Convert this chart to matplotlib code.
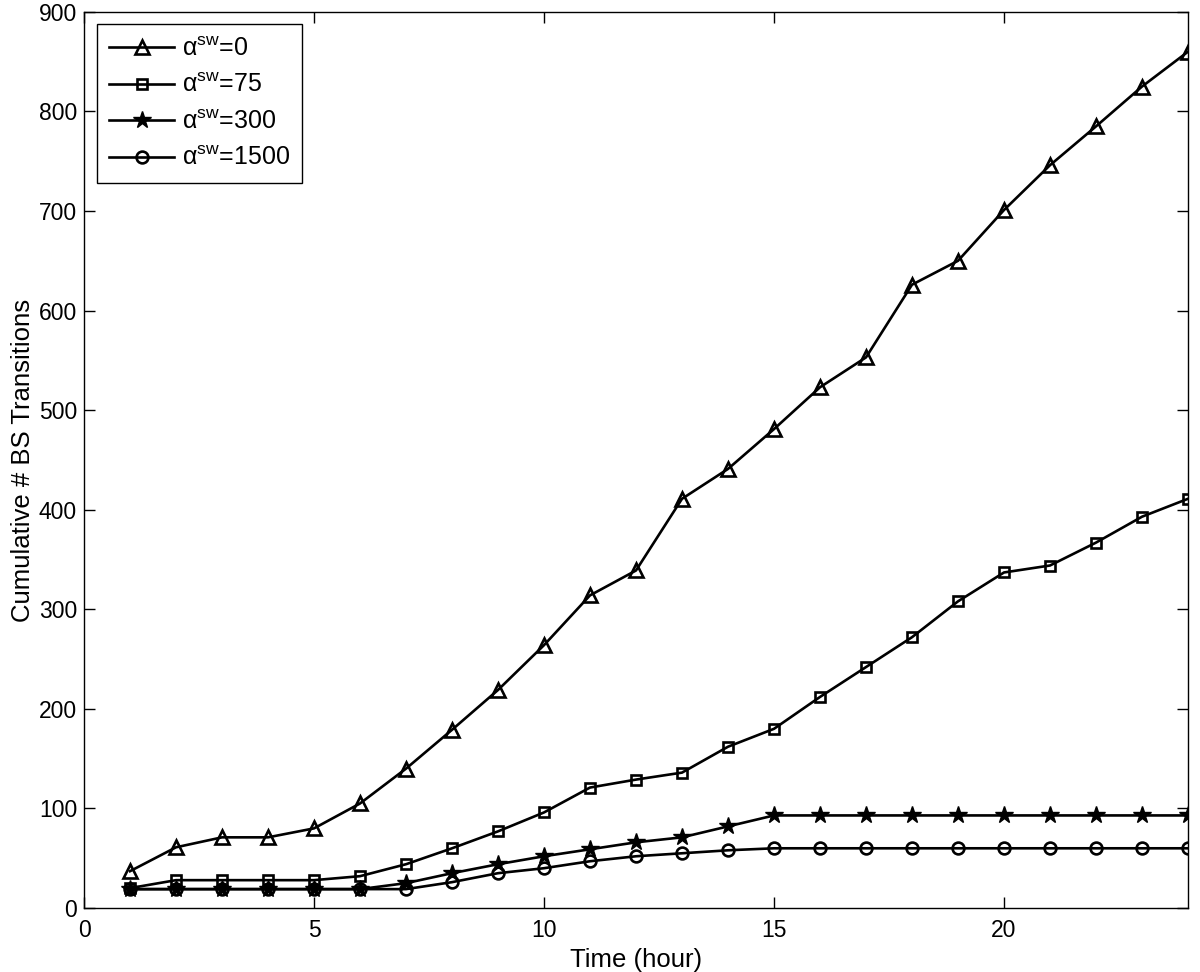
import matplotlib
matplotlib.use('Agg')
import matplotlib.pyplot as plt

plt.rcParams['font.family'] = ['Liberation Sans', 'DejaVu Sans']
plt.rcParams['mathtext.fontset'] = 'custom'
plt.rcParams['mathtext.rm'] = 'Liberation Sans'
plt.rcParams['mathtext.it'] = 'Liberation Sans:italic'

# data
hours = list(range(1, 25))
sw0 = [37, 61, 71, 71, 80, 105, 140, 179, 219, 264, 314, 339, 411, 441,
       481, 523, 553, 626, 650, 701, 746, 785, 825, 860]
sw75 = [20, 28, 28, 28, 28, 32, 44, 60, 77, 96, 121, 129, 136, 162,
        180, 212, 242, 272, 308, 337, 344, 367, 393, 411]
sw300 = [19, 19, 19, 19, 19, 19, 25, 35, 44, 52, 59, 66, 71, 82,
         93, 93, 93, 93, 93, 93, 93, 93, 93, 93]
sw1500 = [19, 19, 19, 19, 19, 19, 19, 26, 35, 40, 47, 52, 55, 58,
          60, 60, 60, 60, 60, 60, 60, 60, 60, 60]

labels = [r'$\mathregular{\alpha^{sw}}$=0', r'$\mathregular{\alpha^{sw}}$=75',
          r'$\mathregular{\alpha^{sw}}$=300', r'$\mathregular{\alpha^{sw}}$=1500']

fig = plt.figure(figsize=(12, 9.72), dpi=100)
ax = fig.add_axes([0.07, 0.0658, 0.92, 0.922])

lw = 1.9
ax.plot(hours, sw0, color='black', lw=lw, marker='^', ms=10, mfc='none', mew=1.9, label=labels[0])
ax.plot(hours, sw75, color='black', lw=lw, marker='s', ms=7.5, mfc='none', mew=1.9, label=labels[1])
ax.plot(hours, sw300, color='black', lw=lw, marker='*', ms=13, mfc='black', mew=1.0, label=labels[2])
ax.plot(hours, sw1500, color='black', lw=lw, marker='o', ms=8.5, mfc='none', mew=1.9, label=labels[3])

ax.set_xlim(0, 24)
ax.set_ylim(0, 900)
ax.set_xticks([0, 5, 10, 15, 20])
ax.set_yticks(range(0, 901, 100))
ax.tick_params(direction='in', length=8, width=1, top=True, right=True,
               labelsize=16.5)
ax.tick_params(axis='x', pad=8)
ax.tick_params(axis='y', pad=5)
for s in ax.spines.values():
    s.set_linewidth(1)

ax.set_xlabel('Time (hour)', fontsize=18.5, labelpad=4)
ax.set_ylabel('Cumulative # BS Transitions', fontsize=18.5, labelpad=3)

leg = ax.legend(loc='upper left', fontsize=18, fancybox=False, shadow=False,
                edgecolor='black', framealpha=1, handlelength=2.6,
                handletextpad=0.3, labelspacing=0.5, borderpad=0.5,
                borderaxespad=0.5)
leg.get_frame().set_linewidth(1)

fig.savefig('out.png', dpi=100)
